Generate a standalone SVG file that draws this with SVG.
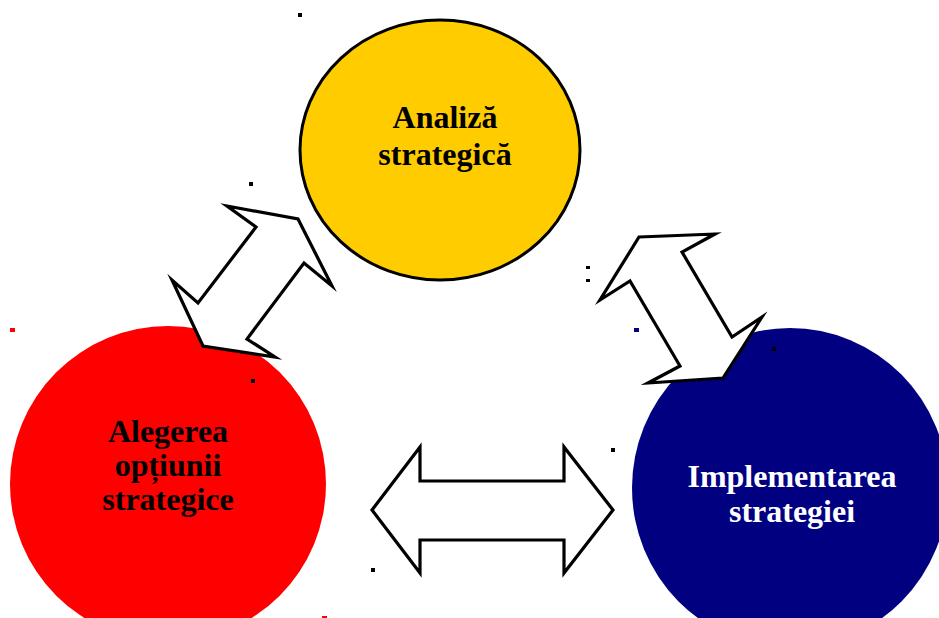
<svg xmlns="http://www.w3.org/2000/svg" width="939" height="618" viewBox="0 0 939 618">
  <style>
    .label { font-family: "Liberation Serif", "Times New Roman", serif; font-weight: bold; font-size: 32px; text-anchor: middle; }
    .dark { fill: #000000; }
    .light { fill: #ffffff; }
    .arrow { fill: #ffffff; stroke: #000000; stroke-width: 3.2; stroke-linejoin: miter; stroke-miterlimit: 10; }
  </style>
  <rect width="939" height="618" fill="#ffffff"/>

  <!-- nodes -->
  <g id="node-analiza">
    <ellipse cx="440" cy="150" rx="140" ry="130" fill="#ffcc00" stroke="#000000" stroke-width="3"/>
    <text class="label dark" x="445" y="128">Analiză</text>
    <text class="label dark" x="445" y="165">strategică</text>
  </g>
  <g id="node-alegerea">
    <ellipse cx="168" cy="484" rx="158" ry="158" fill="#ff0000"/>
    <text class="label dark" x="168" y="442">Alegerea</text>
    <text class="label dark" x="168" y="476">opțiunii</text>
    <text class="label dark" x="168" y="510">strategice</text>
  </g>
  <g id="node-implementarea">
    <ellipse cx="790" cy="488" rx="158" ry="160" fill="#000080"/>
    <text class="label light" x="792" y="487">Implementarea</text>
    <text class="label light" x="792" y="522">strategiei</text>
  </g>

  <!-- connectors: double-headed block arrows -->
  <g id="connectors">
    <polygon class="arrow" points="227,206 298,219 332,286 304,263 247,339 275,357 203,346 172,280 198,303 256,227"/>
    <polygon class="arrow" points="639,237 715,234 682,252 732,337 762,317 723,378 648,383 680,366 630,281 600,300"/>
    <polygon class="arrow" points="372,510 420,447 420,481 564,481 564,447 613,510 564,573 564,540 420,540 420,573"/>
  </g>

  <!-- stray marks -->
  <g id="marks">
    <rect x="298" y="13" width="4" height="4" fill="#000000"/>
    <rect x="249" y="182" width="4" height="4" fill="#000000"/>
    <rect x="251" y="379" width="4" height="4" fill="#000000"/>
    <rect x="10" y="328" width="5" height="4" fill="#ff0000"/>
    <rect x="322" y="616" width="5" height="2" fill="#ff0000"/>
    <rect x="371" y="568" width="4" height="4" fill="#000000"/>
    <rect x="611" y="448" width="4" height="4" fill="#000000"/>
    <rect x="586" y="266" width="4" height="3" fill="#000000"/>
    <rect x="586" y="279" width="4" height="3" fill="#000000"/>
    <rect x="634" y="328" width="5" height="4" fill="#000080"/>
    <rect x="772" y="347" width="4" height="4" fill="#000000"/>
  </g>
</svg>
